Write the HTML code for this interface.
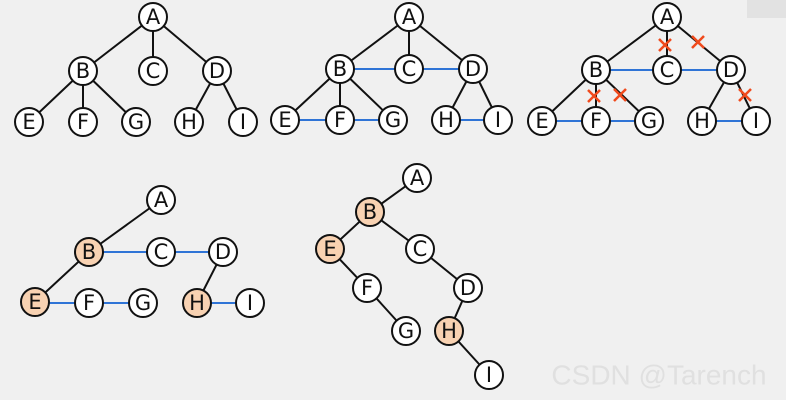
<!DOCTYPE html>
<html><head><meta charset="utf-8"><style>
html,body{margin:0;padding:0;background:#f0f0f0;}
svg{display:block}
text{font-family:"DejaVu Sans","Liberation Sans",sans-serif;font-size:21px;text-anchor:middle;dominant-baseline:central;fill:#111}
.k{stroke:#111;stroke-width:2;fill:none}
.b{stroke:#2f74d6;stroke-width:2;fill:none}
.n{fill:#fff;stroke:#111;stroke-width:2}
.o{fill:#f8d2b2;stroke:#111;stroke-width:2}
.x{stroke:#f04a1c;stroke-width:2.5}
</style></head><body>
<svg width="786" height="400" viewBox="0 0 786 400">
<rect x="747" y="0" width="39" height="18" fill="#e2e2e2"/>
<g>
<path class="k" d="M153 17L83 71M153 17L153 71M153 17L217 71M83 71L29 122M83 71L83 122M83 71L136 122M217 71L189 122M217 71L243 122"/>
<circle class="n" cx="153" cy="17" r="14"/><text x="153" y="17">A</text>
<circle class="n" cx="83" cy="71" r="14"/><text x="83" y="71">B</text>
<circle class="n" cx="153" cy="71" r="14"/><text x="153" y="71">C</text>
<circle class="n" cx="217" cy="71" r="14"/><text x="217" y="71">D</text>
<circle class="n" cx="29" cy="122" r="14"/><text x="29" y="122">E</text>
<circle class="n" cx="83" cy="122" r="14"/><text x="83" y="122">F</text>
<circle class="n" cx="136" cy="122" r="14"/><text x="136" y="122">G</text>
<circle class="n" cx="189" cy="122" r="14"/><text x="189" y="122">H</text>
<circle class="n" cx="243" cy="122" r="14"/><text x="243" y="122">I</text>
</g>
<g>
<path class="k" d="M409 17L340 69M409 17L409 69M409 17L473 69M340 69L285 120M340 69L340 120M340 69L393 120M473 69L446 120M473 69L498 120"/>
<path class="b" d="M340 69H473M285 120H393M446 120H498"/>
<circle class="n" cx="409" cy="17" r="14"/><text x="409" y="17">A</text>
<circle class="n" cx="340" cy="69" r="14"/><text x="340" y="69">B</text>
<circle class="n" cx="409" cy="69" r="14"/><text x="409" y="69">C</text>
<circle class="n" cx="473" cy="69" r="14"/><text x="473" y="69">D</text>
<circle class="n" cx="285" cy="120" r="14"/><text x="285" y="120">E</text>
<circle class="n" cx="340" cy="120" r="14"/><text x="340" y="120">F</text>
<circle class="n" cx="393" cy="120" r="14"/><text x="393" y="120">G</text>
<circle class="n" cx="446" cy="120" r="14"/><text x="446" y="120">H</text>
<circle class="n" cx="498" cy="120" r="14"/><text x="498" y="120">I</text>
</g>
<g>
<path class="k" d="M667 17L596 70M667 17L667 70M667 17L731 70M596 70L542 121M596 70L596 121M596 70L649 121M731 70L702 121M731 70L756 121"/>
<path class="b" d="M596 70H731M542 121H649M702 121H756"/>
<path class="x" d="M659 39l12 12M671 39l-12 12M692 36l12 12M704 36l-12 12M588 90l12 12M600 90l-12 12M614 89l12 12M626 89l-12 12M739 89l12 12M751 89l-12 12"/>
<circle class="n" cx="667" cy="17" r="14"/><text x="667" y="17">A</text>
<circle class="n" cx="596" cy="70" r="14"/><text x="596" y="70">B</text>
<circle class="n" cx="667" cy="70" r="14"/><text x="667" y="70">C</text>
<circle class="n" cx="731" cy="70" r="14"/><text x="731" y="70">D</text>
<circle class="n" cx="542" cy="121" r="14"/><text x="542" y="121">E</text>
<circle class="n" cx="596" cy="121" r="14"/><text x="596" y="121">F</text>
<circle class="n" cx="649" cy="121" r="14"/><text x="649" y="121">G</text>
<circle class="n" cx="702" cy="121" r="14"/><text x="702" y="121">H</text>
<circle class="n" cx="756" cy="121" r="14"/><text x="756" y="121">I</text>
</g>
<g>
<path class="k" d="M161 200L89 252M89 252L35 302M223 252L197 303"/>
<path class="b" d="M89 252H223M35 303H143M197 303H250"/>
<circle class="n" cx="161" cy="200" r="14"/><text x="161" y="200">A</text>
<circle class="o" cx="89" cy="252" r="14"/><text x="89" y="252">B</text>
<circle class="n" cx="161" cy="252" r="14"/><text x="161" y="252">C</text>
<circle class="n" cx="223" cy="252" r="14"/><text x="223" y="252">D</text>
<circle class="o" cx="35" cy="302" r="14"/><text x="35" y="302">E</text>
<circle class="n" cx="89" cy="303" r="14"/><text x="89" y="303">F</text>
<circle class="n" cx="143" cy="303" r="14"/><text x="143" y="303">G</text>
<circle class="o" cx="197" cy="303" r="14"/><text x="197" y="303">H</text>
<circle class="n" cx="250" cy="303" r="14"/><text x="250" y="303">I</text>
</g>
<g>
<path class="k" d="M417 178L370 212L330 249L367 288L406 331M370 212L420 249L468 288L449 331L489 375"/>
<circle class="n" cx="417" cy="178" r="14"/><text x="417" y="178">A</text>
<circle class="o" cx="370" cy="212" r="14"/><text x="370" y="212">B</text>
<circle class="o" cx="330" cy="249" r="14"/><text x="330" y="249">E</text>
<circle class="n" cx="420" cy="249" r="14"/><text x="420" y="249">C</text>
<circle class="n" cx="367" cy="288" r="14"/><text x="367" y="288">F</text>
<circle class="n" cx="468" cy="288" r="14"/><text x="468" y="288">D</text>
<circle class="n" cx="406" cy="331" r="14"/><text x="406" y="331">G</text>
<circle class="o" cx="449" cy="331" r="14"/><text x="449" y="331">H</text>
<circle class="n" cx="489" cy="375" r="14"/><text x="489" y="375">I</text>
</g>
<text x="659" y="375" style="font-size:28px;fill:#e0e0e0;font-family:'Liberation Sans',sans-serif">CSDN @Tarench</text>
</svg>
</body></html>
